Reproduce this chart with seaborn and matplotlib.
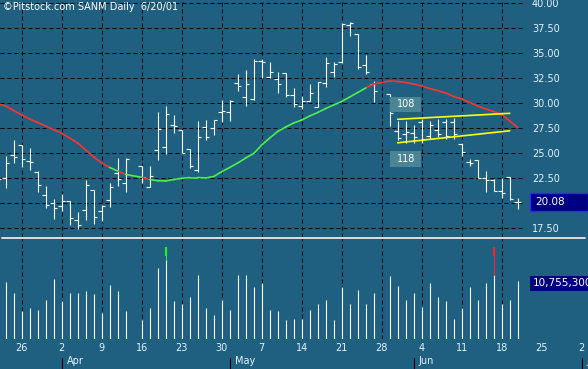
import numpy as np
import pandas as pd
import seaborn as sns
import matplotlib.pyplot as plt
import matplotlib.transforms as mtransforms
from matplotlib.patches import Rectangle
from matplotlib.lines import Line2D

# giorni di borsa (Venerdi Santo e Memorial Day chiusi)
holidays = ['2001-04-13', '2001-05-28']
days = pd.bdate_range('2001-03-21', '2001-06-20')
days = days[~days.isin(pd.to_datetime(holidays))]

opens = [22.8, 22.47, 24.83, 25.77, 24.23, 23.07, 20.77, 20.0,
         19.67, 20.23, 18.33, 19.3, 21.3, 19.17, 20.3, 23.0, 22.0, 23.7, 21.6, 25.33,
         25.6, 27.77, 27.27, 25.43, 23.33, 27.6, 27.5, 29.13,
         29.13, 32.0, 30.6, 30.35, 34.2, 32.58, 32.38, 32.95, 30.75, 29.68, 30.21,
         29.6, 32.01, 33.1, 34.1, 37.78, 36.88, 33.78, 31.88, 30.9, 27.2, 26.9,
         27.0, 28.1, 26.7, 27.3, 28.1, 28.1, 25.93, 24.08, 24.28, 22.45, 22.28,
         21.21, 22.6, 20.05]
highs = [23.0, 24.73, 26.3, 25.83, 25.5, 23.23, 21.73, 20.4,
         20.9, 20.23, 19.13, 22.33, 21.3, 19.8, 22.0, 24.5, 24.5, 23.7, 23.7, 29.13,
         29.7, 28.8, 27.33, 25.43, 28.23, 28.33, 28.33, 30.3,
         30.3, 32.9, 33.27, 34.38, 34.38, 34.05, 33.1, 32.95, 31.45, 30.68, 31.88,
         32.11, 34.55, 34.1, 38.01, 38.08, 36.88, 34.78, 32.18, 30.9, 28.2, 28.2,
         27.8, 28.4, 28.2, 28.4, 28.4, 28.5, 25.95, 24.35, 24.28, 23.18, 22.35,
         22.45, 22.6, 20.45]
lows = [21.9, 21.5, 23.97, 23.57, 23.33, 21.07, 19.47, 18.4,
        19.23, 17.8, 17.4, 18.33, 17.9, 18.23, 19.57, 21.73, 21.07, 22.0, 21.6, 24.27,
        24.93, 26.97, 25.0, 23.47, 23.13, 26.3, 26.77, 28.1,
        28.17, 31.15, 29.65, 30.3, 32.45, 32.5, 30.95, 30.55, 29.6, 29.35, 30.21,
        29.55, 31.55, 32.6, 34.01, 36.68, 33.35, 32.88, 30.11, 27.7, 26.3, 26.0,
        26.0, 26.0, 26.4, 26.6, 26.4, 26.4, 24.67, 23.68, 22.45, 21.11, 21.21,
        20.45, 20.33, 19.35]
closes = [22.35, 24.0, 24.63, 24.4, 24.13, 21.8, 19.8, 19.47,
          20.23, 18.53, 17.8, 21.83, 18.6, 19.7, 21.6, 22.4, 24.4, 22.6, 22.7, 27.4,
          28.9, 27.7, 25.0, 23.7, 26.6, 26.63, 28.27, 29.23,
          30.2, 31.65, 31.9, 34.2, 34.05, 33.1, 31.85, 30.75, 29.9, 30.21, 30.98,
          32.11, 33.95, 33.9, 37.88, 37.98, 33.55, 33.11, 31.21, 29.0, 26.5, 27.1,
          26.6, 26.4, 27.8, 26.9, 26.7, 26.9, 25.1, 23.98, 22.45, 22.28, 21.21,
          21.0, 20.38, 20.08]
# volumi in milioni di azioni
volume_m = [8.0, 10.6, 8.5, 5.2, 5.6, 5.4, 7.2, 11.1,
            6.9, 8.5, 8.5, 8.9, 8.3, 4.8, 10.0, 8.9, 5.2, 3.5, 5.7, 13.2,
            14.5, 7.0, 6.5, 7.8, 11.9, 5.6, 4.4, 7.2,
            5.4, 11.9, 11.9, 9.5, 10.4, 5.4, 5.2, 3.5, 3.7, 3.7, 5.4,
            6.5, 7.2, 3.5, 9.6, 6.5, 9.1, 6.5, 8.5, 11.7, 9.8, 7.2,
            8.5, 5.9, 10.4, 7.8, 6.9, 3.7, 5.6, 9.6, 7.2, 10.4, 11.9,
            6.5, 7.2, 10.7553]
# media mobile e colore (su = verde, giu = rosso)
ma_line = [29.9, 29.68, 29.23, 28.78, 28.38, 28.03, 27.68, 27.31,
           26.95, 26.48, 25.98, 25.28, 24.58, 23.98, 23.53, 23.18, 22.83, 22.55, 22.33, 22.21,
           22.18, 22.33, 22.45, 22.53, 22.53, 22.48, 22.63, 23.11,
           23.53, 23.98, 24.48, 24.93, 25.78, 26.48, 27.13, 27.58, 27.98, 28.28, 28.68,
           29.03, 29.43, 29.78, 30.13, 30.58, 31.03, 31.48, 31.88, 32.18, 32.13, 32.03,
           31.88, 31.68, 31.43, 31.23, 30.98, 30.63, 30.38, 30.03, 29.68, 29.38, 29.13,
           28.83, 28.18, 27.53]
ma_trend = ['dn'] * 15 + ['up', 'dn', 'up', 'dn'] + ['up'] * 27 + ['dn'] * 18

# canale giallo e riquadri
flag_dates = ['2001-05-30', '2001-06-19']
flag_upper = [28.35, 28.95]
flag_lower = [26.0, 27.2]
box_date = '2001-05-31'
box_prices = [29.86, 24.39]
box_texts = ['108', '118']
signal_up = ['2001-04-19']
signal_dn = ['2001-06-15']
price_ticks = [17.5, 20.0, 22.5, 25.0, 27.5, 30.0, 32.5, 35.0, 37.5, 40.0]
month_names = ['Apr', 'May', 'Jun', 'Jul']

W, H = 588, 369
BG = '#1f5f80'
TXT = '#e4f2ff'
GRID = dict(color='black', linestyle=(0, (4, 3)), linewidth=0.72)
X0 = 21.7        # pixel del 26 marzo
PX_DAY = 8.0
VOL_PX = 0.1854  # milioni per pixel

sns.set_theme(style='dark', rc={'axes.facecolor': BG, 'figure.facecolor': BG})
plt.rcParams['font.family'] = ['DejaVu Sans']


def px_box(x0, y0, x1, y1):
    return [x0 / W, 1 - y1 / H, (x1 - x0) / W, (y1 - y0) / H]


def bpos(d):
    d = np.asarray(pd.to_datetime(d).values.astype('datetime64[D]'))
    return np.busday_count(np.datetime64('2001-03-26'), d)


fig = plt.figure(figsize=(W / 100, H / 100), dpi=100)
ax = fig.add_axes(px_box(0, 0, 525, 237))
axv = fig.add_axes(px_box(0, 238, 588, 338.7))
for a in (ax, axv):
    a.set_facecolor(BG)
    for s in a.spines.values():
        s.set_visible(False)

pos = bpos(days)
mondays = pd.date_range('2001-03-26', '2001-07-02', freq='W-MON')
mon_pos = bpos(mondays)
grid_pos = mon_pos[mon_pos <= pos.max()]

# pannello prezzi
ax.set_xlim(-X0 / PX_DAY, (525 - X0) / PX_DAY)
ax.set_ylim(40 - (237 - 2.8) / 10, 40 + 2.8 / 10)
ax.set_xticks(grid_pos)
ax.set_yticks(price_ticks)
# l'etichetta coperta dal riquadro dell'ultimo prezzo resta vuota
last_hidden = min(price_ticks, key=lambda v: abs(v - closes[-1]))
ax.set_yticklabels(['' if v == last_hidden else f'{v:.2f}' for v in price_ticks])
ax.grid(True, **GRID)
ax.set_axisbelow(True)
ax.yaxis.tick_right()
ax.tick_params(axis='y', length=0, pad=5, labelsize=7, labelcolor=TXT)
ax.tick_params(axis='x', length=0, labelbottom=False)

ax.vlines(pos, lows, highs, color='white', lw=0.8, zorder=2)
ax.hlines(opens, pos - 0.45, pos, color='white', lw=0.8, zorder=2)
ax.hlines(closes, pos, pos + 0.45, color='white', lw=0.8, zorder=2)

n = len(pos)
seg = pd.DataFrame({
    'x': np.r_[pos[:-1], pos[1:]],
    'y': np.r_[ma_line[:-1], ma_line[1:]],
    'seg': np.r_[np.arange(1, n), np.arange(1, n)],
    'trend': ma_trend[1:] + ma_trend[1:],
})
sns.lineplot(data=seg, x='x', y='y', hue='trend', units='seg', estimator=None,
             palette={'up': '#4cf04c', 'dn': '#ff3333'}, legend=False,
             lw=1.2, ax=ax, zorder=3)

fpos = bpos(flag_dates)
sns.lineplot(x=fpos, y=flag_upper, color='#ffff00', lw=1.2, ax=ax, zorder=4)
sns.lineplot(x=fpos, y=flag_lower, color='#ffff00', lw=1.2, ax=ax, zorder=4)
ax.set_xlabel('')
ax.set_ylabel('')

bp = bpos([box_date])[0]
for pr, t in zip(box_prices, box_texts):
    ax.add_patch(Rectangle((bp - 1.94, pr - 0.78), 3.875, 1.55,
                           facecolor='#4b8595', edgecolor='none', zorder=5))
    ax.text(bp, pr, t, color='white', fontsize=7, ha='center', va='center', zorder=6)

# etichetta ultimo prezzo
tp = mtransforms.blended_transform_factory(fig.transFigure, ax.transData)
fig.add_artist(Rectangle((529.7 / W, closes[-1] - 0.92), 58.3 / W, 1.84, transform=tp,
                         facecolor='#000080', edgecolor='#2a2aff', lw=1.0))
fig.text(535 / W, closes[-1], f'{closes[-1]:.2f}', transform=tp, color='white',
         fontsize=7.5, ha='left', va='center')

# pannello volumi
axv.set_xlim(-X0 / PX_DAY, (588 - X0) / PX_DAY)
axv.set_ylim(0, 100.7 * VOL_PX)
for p in grid_pos:
    axv.axvline(p, zorder=0, **GRID)
axv.vlines(pos, 0, volume_m, color='white', lw=0.8, zorder=2)
axv.set_xticks(mon_pos)
axv.set_xticklabels([str(d.day) for d in mondays])
axv.set_yticks([])
axv.tick_params(axis='x', length=0, pad=3, labelsize=7, labelcolor=TXT)

vol_s = pd.Series(volume_m, index=days)
for dates, col in ((signal_up, '#22ee22'), (signal_dn, '#ff2222')):
    for d in dates:
        p = bpos([d])[0]
        v = vol_s[pd.Timestamp(d)]
        axv.vlines(p, v, 17.0, color=col, lw=0.8, zorder=3)
        axv.vlines(p + 0.06, 15.4, 17.0, color=col, lw=1.6, zorder=3)

tv = mtransforms.blended_transform_factory(fig.transFigure, axv.transData)
vy = volume_m[-1] - 2.8 * VOL_PX
fig.add_artist(Rectangle((529.7 / W, vy - 1.45), 58.3 / W, 2.9, transform=tv,
                         facecolor='#000080', edgecolor='none'))
fig.text(533 / W, vy, f'{int(round(volume_m[-1] * 1e6)):,}', transform=tv,
         color='white', fontsize=7.5, ha='left', va='center')

# mesi
month_pos = bpos([str(np.busday_offset(f'2001-{m:02d}-01', 0, roll='forward'))
                  for m in (4, 5, 6, 7)])
tm = mtransforms.blended_transform_factory(axv.transData, fig.transFigure)
for p, name in zip(month_pos, month_names):
    fig.add_artist(Line2D([p, p], [0, (H - 357.7) / H], transform=tm, color='black', lw=0.8))
    fig.text(p + 5 / PX_DAY, (H - 360.7) / H, name, transform=tm, color=TXT,
             fontsize=7, ha='left', va='center')

# separatore e titolo
fig.add_artist(Line2D([2 / W, 585 / W], [1 - 237.5 / H] * 2, color='#dcdcdc', lw=1.4))
fig.text(3 / W, 1 - 7.5 / H, '\u00a9Pitstock.com SANM Daily  6/20/01', color='white',
         fontsize=7, ha='left', va='center')

fig.savefig('out.png', dpi=100, facecolor=BG)
